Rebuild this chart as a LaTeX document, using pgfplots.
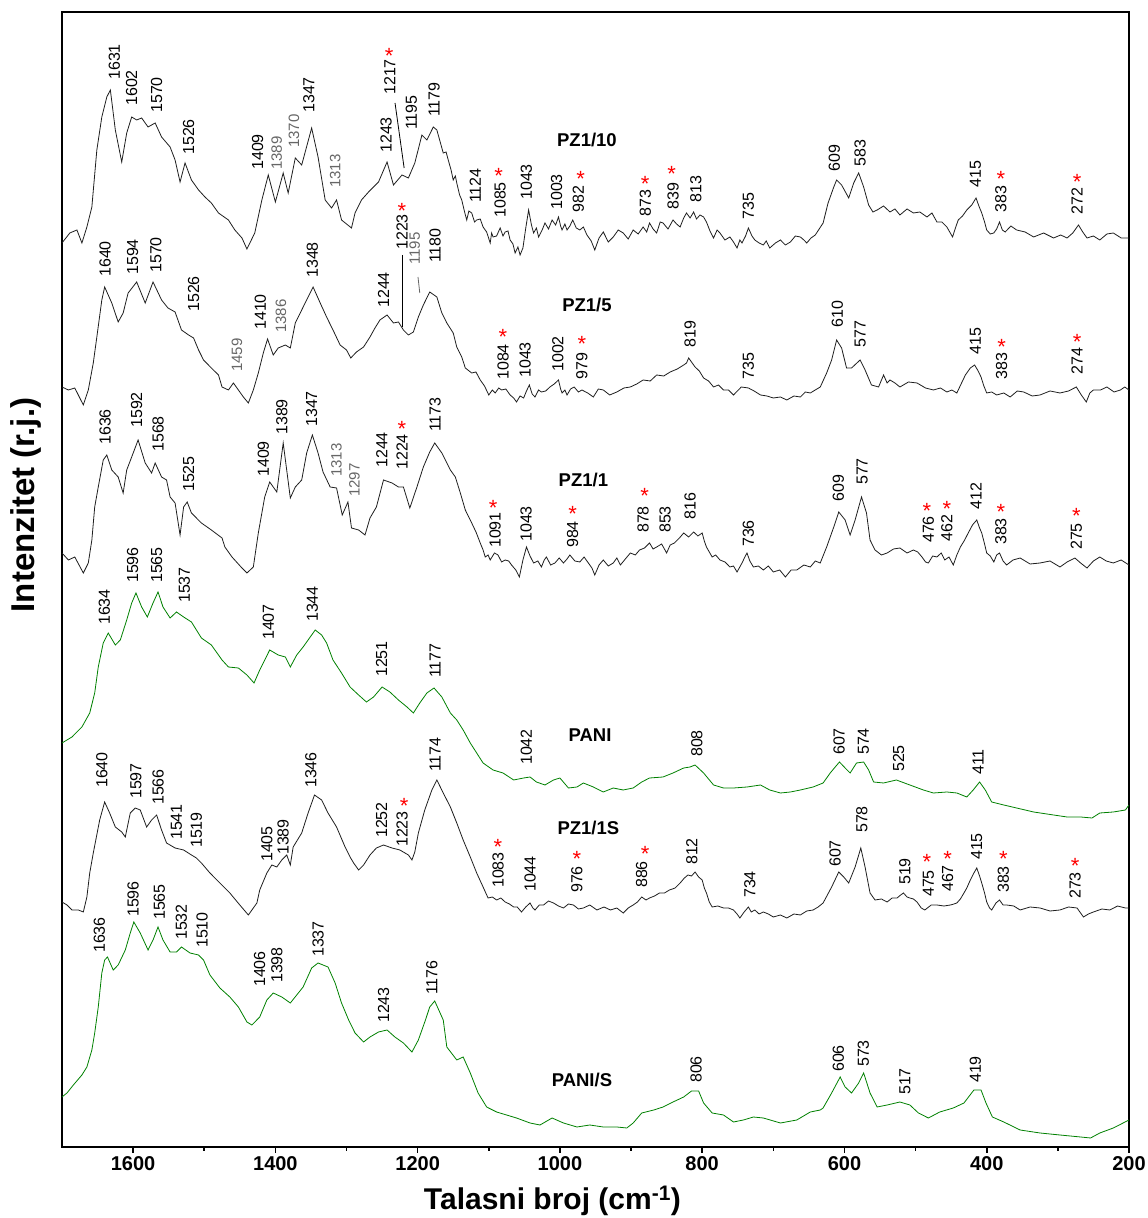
\documentclass[border=0pt]{standalone}
\usepackage{fontspec}
\setmainfont{Liberation Sans}
\usepackage{pgfplots}
\pgfplotsset{compat=1.18}
\definecolor{spgreen}{RGB}{0,128,0}
\definecolor{spblack}{RGB}{30,30,30}
\newcommand{\lb}[3]{\node[lbl] at (axis cs:#1,-#2) {#3};}
\newcommand{\glb}[3]{\node[lblg] at (axis cs:#1,-#2) {#3};}
\newcommand{\astk}[2]{\node[astl] at (axis cs:#1,-#2+4) {*};}
\newcommand{\nm}[3]{\node[nml] at (axis cs:#1,-#2) {#3};}
\begin{document}
\begin{tikzpicture}[
  lbl/.style={rotate=90, anchor=west, inner sep=0pt, font=\fontsize{16}{16}\selectfont},
  lblg/.style={rotate=90, anchor=west, inner sep=0pt, text=black!60, font=\fontsize{15}{15}\selectfont},
  astl/.style={text=red, inner sep=0pt, anchor=north, font=\fontsize{22}{22}\selectfont},
  nml/.style={inner sep=0pt, anchor=center, font=\fontsize{18.5}{18.5}\selectfont\bfseries}]
\begin{axis}[
  at={(62pt,71pt)}, anchor=south west,
  scale only axis, width=1067pt, height=1135pt,
  x dir=reverse, xmin=200, xmax=1700, ymin=-1147, ymax=-12,
  xtick={200,400,...,1600}, minor x tick num=1, ytick=\empty,
  xtick pos=left, tick align=outside,
  major tick length=6pt, minor tick length=4pt,
  axis line style={line width=1.8pt},
  every tick/.style={line width=1.6pt, black},
  /pgf/number format/1000 sep={},
  /pgf/number format/assume math mode=true,
  xticklabel style={font=\fontsize{20}{20}\selectfont\bfseries},
  xlabel={Talasni broj (cm\textsuperscript{-1})},
  ylabel={Intenzitet (r.j.)},
  every axis x label/.style={at={(axis description cs:0.4597,-0.0555)}, anchor=base, font=\fontsize{30}{30}\selectfont\bfseries},
  every axis y label/.style={at={(axis description cs:-0.0253,0.5656)}, anchor=base, rotate=90, font=\fontsize{33}{33}\selectfont\bfseries},
  clip=true,
]
% PZ1/10
\addplot[spblack, line width=0.8pt] coordinates {
(1700,-243)(1689,-233)(1679,-230)(1672,-243)(1665,-227)(1658,-207)(1651,-150)(1644,-117)(1637,-97)(1632,-90)
(1625,-130)(1616,-162)(1609,-133)(1602,-117)(1595,-120)(1588,-118)(1579,-127)(1569,-123)(1560,-137)(1548,-147)
(1541,-160)(1534,-182)(1527,-163)(1518,-180)(1508,-190)(1499,-197)(1490,-203)(1480,-213)(1466,-220)(1457,-230)
(1447,-238)(1440,-249)(1429,-233)(1419,-200)(1410,-175)(1400,-202)(1389,-173)(1382,-193)(1372,-158)(1363,-165)
(1349,-128)(1340,-157)(1330,-200)(1321,-208)(1314,-200)(1307,-220)(1293,-228)(1288,-213)(1279,-200)(1269,-192)
(1255,-182)(1243,-162)(1234,-185)(1222,-175)(1213,-178)(1204,-163)(1194,-135)(1187,-140)(1178,-127)(1173,-130)
(1164,-153)(1160,-152)(1157,-160)(1153,-170)(1150,-180)(1147,-176)(1145,-183)(1141,-195)(1138,-200)(1134,-212)
(1131,-220)(1128,-211)(1124,-213)(1120,-222)(1117,-220)(1112,-219)(1108,-227)(1103,-232)(1098,-243)(1096,-233)
(1094,-237)(1089,-236)(1084,-228)(1080,-236)(1077,-232)(1073,-231)(1070,-240)(1066,-244)(1063,-253)(1059,-247)
(1056,-255)(1052,-248)(1048,-228)(1044,-210)(1040,-225)(1037,-233)(1033,-228)(1030,-237)(1025,-230)(1021,-223)
(1016,-229)(1011,-220)(1006,-225)(1002,-217)(999,-226)(997,-230)(993,-224)(990,-230)(986,-226)(982,-220)
(977,-228)(972,-230)(967,-227)(962,-235)(956,-241)(951,-250)(945,-238)(939,-232)(932,-242)(925,-237)
(918,-230)(911,-233)(904,-239)(897,-230)(890,-234)(883,-227)(878,-232)(874,-223)(869,-229)(864,-233)
(859,-222)(855,-223)(848,-229)(841,-220)(836,-224)(831,-227)(826,-218)(822,-213)(817,-218)(812,-212)
(808,-219)(803,-215)(798,-217)(794,-222)(789,-231)(784,-238)(779,-230)(775,-233)(768,-240)(761,-237)
(756,-242)(751,-248)(747,-240)(744,-243)(739,-236)(735,-228)(730,-236)(726,-240)(720,-243)(714,-245)
(710,-241)(705,-248)(697,-243)(690,-240)(683,-245)(676,-242)(669,-236)(662,-237)(657,-240)(653,-243)
(647,-238)(641,-235)(630,-223)(623,-203)(615,-187)(611,-180)(604,-185)(594,-198)(587,-183)(580,-173)
(573,-187)(566,-205)(560,-212)(554,-210)(545,-206)(536,-212)(529,-209)(522,-215)(512,-209)(503,-213)
(494,-212)(484,-217)(477,-213)(470,-222)(463,-222)(456,-227)(452,-232)(448,-237)(444,-228)(440,-220)
(434,-216)(428,-210)(421,-205)(415,-198)(411,-206)(407,-213)(403,-222)(400,-230)(395,-234)(390,-233)
(386,-229)(382,-222)(378,-230)(374,-232)(366,-226)(358,-230)(346,-232)(334,-237)(320,-233)(306,-238)
(296,-235)(287,-238)(279,-233)(271,-225)(265,-232)(259,-238)(250,-236)(241,-240)(231,-234)(222,-233)
(211,-238)(200,-238)};
% PZ1/5
\addplot[spblack, line width=0.8pt] coordinates {
(1700,-387)(1691,-390)(1682,-388)(1670,-405)(1663,-390)(1656,-363)(1651,-337)(1644,-300)(1640,-287)(1630,-303)
(1621,-322)(1614,-313)(1607,-293)(1595,-282)(1583,-303)(1572,-282)(1560,-300)(1551,-308)(1541,-312)(1532,-330)
(1522,-335)(1515,-338)(1508,-350)(1501,-360)(1490,-368)(1480,-375)(1475,-387)(1466,-390)(1459,-383)(1452,-390)
(1445,-397)(1438,-403)(1431,-390)(1424,-373)(1417,-353)(1411,-339)(1403,-355)(1396,-348)(1386,-345)(1379,-348)
(1372,-323)(1363,-310)(1354,-297)(1347,-287)(1337,-303)(1328,-317)(1319,-330)(1309,-345)(1300,-350)(1294,-358)
(1286,-352)(1276,-347)(1267,-337)(1260,-328)(1253,-320)(1243,-315)(1234,-323)(1227,-322)(1220,-330)(1213,-335)
(1206,-332)(1199,-317)(1192,-305)(1183,-292)(1173,-297)(1166,-313)(1159,-323)(1150,-333)(1145,-347)(1138,-357)
(1133,-368)(1124,-373)(1118,-372)(1112,-380)(1106,-386)(1100,-395)(1095,-390)(1091,-393)(1086,-388)(1082,-390)
(1076,-389)(1070,-395)(1065,-398)(1061,-402)(1056,-396)(1051,-398)(1047,-391)(1043,-385)(1039,-394)(1035,-397)
(1030,-390)(1026,-392)(1020,-391)(1014,-387)(1008,-384)(1002,-380)(999,-389)(997,-393)(993,-390)(990,-395)
(985,-389)(980,-387)(974,-392)(969,-390)(961,-393)(953,-397)(946,-389)(939,-390)(930,-395)(920,-392)
(910,-388)(901,-387)(892,-384)(883,-380)(873,-381)(864,-375)(854,-376)(845,-372)(835,-369)(826,-365)
(822,-363)(819,-358)(814,-363)(810,-367)(804,-371)(798,-378)(791,-381)(784,-387)(777,-385)(770,-390)
(763,-390)(756,-395)(745,-387)(735,-388)(727,-391)(718,-395)(709,-396)(700,-398)(690,-397)(681,-400)
(671,-396)(662,-397)(655,-392)(648,-393)(641,-390)(634,-387)(625,-373)(618,-360)(611,-340)(604,-348)
(597,-368)(590,-368)(578,-360)(571,-370)(562,-385)(552,-387)(545,-375)(540,-383)(536,-380)(529,-383)
(522,-387)(510,-382)(498,-383)(486,-388)(475,-390)(465,-388)(456,-392)(449,-390)(442,-393)(436,-384)
(430,-375)(423,-368)(417,-365)(412,-371)(408,-377)(404,-386)(400,-393)(393,-392)(386,-395)(376,-393)
(367,-397)(357,-391)(348,-392)(336,-396)(325,-395)(311,-391)(297,-393)(285,-391)(274,-387)(267,-395)
(260,-402)(255,-393)(250,-390)(240,-390)(231,-387)(221,-392)(212,-390)(206,-387)(200,-390)};
% PZ1/1
\addplot[spblack, line width=0.8pt] coordinates {
(1700,-553)(1691,-560)(1682,-557)(1670,-573)(1663,-563)(1658,-540)(1654,-507)(1649,-487)(1642,-460)(1637,-455)
(1630,-470)(1621,-477)(1614,-493)(1609,-470)(1602,-457)(1593,-440)(1583,-463)(1574,-473)(1569,-463)(1560,-477)
(1553,-480)(1548,-497)(1541,-503)(1534,-535)(1529,-507)(1524,-502)(1518,-513)(1504,-523)(1490,-530)(1475,-538)
(1471,-547)(1461,-557)(1447,-568)(1440,-573)(1431,-567)(1424,-533)(1415,-497)(1408,-482)(1398,-492)(1389,-443)
(1379,-498)(1372,-487)(1363,-480)(1356,-453)(1348,-435)(1340,-453)(1333,-472)(1323,-487)(1314,-488)(1306,-515)
(1298,-502)(1293,-528)(1283,-530)(1274,-535)(1267,-518)(1258,-507)(1248,-480)(1236,-483)(1227,-487)(1220,-487)
(1211,-508)(1201,-487)(1192,-467)(1183,-452)(1176,-443)(1166,-453)(1154,-470)(1147,-477)(1140,-493)(1133,-510)
(1124,-523)(1118,-532)(1112,-543)(1108,-550)(1105,-557)(1101,-555)(1098,-560)(1092,-553)(1087,-555)(1082,-562)
(1077,-560)(1072,-561)(1068,-565)(1062,-570)(1057,-577)(1052,-560)(1047,-547)(1042,-556)(1037,-563)(1031,-561)
(1026,-567)(1022,-560)(1019,-557)(1013,-565)(1007,-563)(1001,-558)(995,-563)(990,-559)(986,-555)(979,-561)
(972,-562)(966,-557)(960,-563)(955,-568)(951,-575)(945,-565)(939,-560)(932,-566)(925,-563)(920,-558)
(915,-565)(908,-559)(901,-553)(894,-555)(888,-550)(881,-548)(874,-543)(869,-549)(864,-547)(857,-544)
(850,-553)(845,-545)(839,-543)(832,-538)(826,-533)(819,-537)(812,-532)(806,-536)(800,-533)(797,-541)
(794,-547)(790,-552)(786,-557)(781,-555)(775,-560)(768,-562)(761,-567)(756,-566)(751,-572)(744,-563)
(740,-557)(737,-553)(733,-561)(728,-567)(721,-566)(714,-570)(707,-566)(700,-572)(691,-570)(683,-577)
(675,-570)(667,-570)(657,-565)(648,-567)(641,-561)(634,-563)(625,-547)(615,-527)(608,-512)(599,-520)
(592,-535)(585,-520)(576,-497)(569,-513)(564,-540)(557,-550)(548,-555)(540,-553)(531,-549)(522,-548)
(512,-553)(503,-550)(497,-552)(491,-557)(486,-562)(482,-563)(476,-556)(470,-557)(464,-553)(459,-560)
(453,-557)(447,-565)(442,-555)(437,-547)(431,-540)(426,-533)(420,-525)(414,-520)(410,-528)(407,-533)
(403,-544)(400,-553)(395,-556)(390,-562)(386,-555)(382,-553)(377,-561)(372,-565)(363,-560)(353,-558)
(339,-564)(325,-563)(311,-561)(297,-567)(287,-562)(276,-558)(268,-563)(259,-568)(250,-561)(241,-557)
(232,-561)(222,-563)(211,-560)(200,-565)};
% PANI
\addplot[spgreen, line width=0.8pt] coordinates {
(1700,-743)(1686,-737)(1672,-727)(1661,-713)(1654,-693)(1649,-667)(1642,-643)(1635,-633)(1625,-645)(1618,-640)
(1609,-620)(1602,-603)(1596,-593)(1588,-607)(1580,-617)(1572,-603)(1565,-592)(1558,-607)(1548,-618)(1539,-612)
(1529,-617)(1518,-622)(1504,-638)(1490,-645)(1475,-660)(1466,-667)(1452,-668)(1440,-675)(1430,-683)(1422,-670)
(1415,-660)(1408,-650)(1396,-655)(1386,-657)(1379,-667)(1370,-655)(1361,-647)(1351,-637)(1344,-630)(1335,-635)
(1328,-643)(1319,-660)(1307,-673)(1295,-687)(1283,-695)(1272,-702)(1262,-697)(1250,-687)(1239,-692)(1227,-700)
(1215,-707)(1206,-713)(1197,-703)(1187,-693)(1177,-688)(1166,-697)(1154,-713)(1145,-720)(1136,-730)(1126,-743)
(1117,-753)(1108,-763)(1094,-770)(1080,-773)(1065,-780)(1051,-778)(1042,-777)(1033,-782)(1021,-785)(1009,-780)
(1000,-778)(988,-788)(976,-787)(967,-783)(953,-787)(939,-792)(925,-788)(911,-790)(897,-788)(885,-782)
(874,-778)(855,-777)(841,-773)(826,-768)(817,-767)(810,-765)(798,-773)(784,-785)(770,-788)(756,-788)
(737,-787)(718,-785)(705,-790)(690,-793)(676,-792)(662,-790)(644,-787)(630,-783)(620,-773)(613,-767)
(607,-762)(599,-768)(592,-773)(583,-763)(573,-762)(566,-770)(559,-782)(545,-783)(527,-780)(508,-785)
(489,-790)(475,-793)(456,-792)(442,-793)(428,-797)(419,-790)(410,-782)(402,-790)(393,-802)(376,-805)
(358,-808)(334,-812)(306,-815)(287,-817)(268,-817)(252,-818)(241,-813)(222,-812)(205,-810)(200,-805)};
% PZ1/1S
\addplot[spblack, line width=0.8pt] coordinates {
(1700,-902)(1693,-905)(1686,-910)(1677,-910)(1670,-912)(1665,-897)(1661,-873)(1656,-853)(1647,-820)(1640,-802)
(1633,-813)(1625,-827)(1616,-832)(1611,-837)(1604,-813)(1597,-808)(1590,-810)(1581,-827)(1574,-820)(1567,-815)
(1560,-830)(1553,-843)(1541,-848)(1529,-850)(1518,-855)(1511,-858)(1504,-863)(1492,-873)(1478,-883)(1464,-893)
(1450,-905)(1438,-915)(1426,-903)(1422,-890)(1412,-873)(1405,-865)(1398,-867)(1391,-860)(1384,-855)(1379,-865)
(1375,-847)(1363,-833)(1354,-813)(1345,-795)(1335,-800)(1326,-813)(1314,-827)(1302,-847)(1295,-857)(1290,-863)
(1283,-870)(1276,-865)(1267,-855)(1258,-848)(1248,-845)(1236,-848)(1225,-850)(1213,-855)(1208,-860)(1204,-852)
(1199,-833)(1190,-810)(1180,-790)(1173,-780)(1164,-793)(1154,-807)(1145,-823)(1136,-840)(1126,-857)(1117,-873)
(1108,-887)(1101,-898)(1095,-897)(1089,-900)(1083,-898)(1077,-902)(1071,-904)(1065,-907)(1060,-907)(1054,-912)
(1048,-907)(1042,-903)(1038,-908)(1035,-910)(1029,-905)(1023,-905)(1016,-901)(1009,-903)(1002,-906)(995,-908)
(988,-904)(981,-905)(974,-909)(967,-908)(958,-905)(948,-910)(938,-907)(929,-910)(920,-908)(911,-913)
(904,-908)(897,-905)(891,-902)(885,-897)(879,-900)(874,-898)(867,-896)(860,-893)(853,-893)(846,-890)
(838,-888)(831,-883)(825,-878)(820,-875)(815,-876)(810,-872)(805,-877)(800,-880)(797,-888)(794,-893)
(790,-902)(786,-907)(778,-906)(770,-908)(763,-908)(756,-910)(751,-914)(747,-918)(741,-912)(735,-907)
(731,-912)(726,-910)(720,-914)(714,-912)(707,-914)(700,-917)(690,-915)(681,-918)(671,-914)(662,-915)
(653,-911)(644,-910)(637,-907)(630,-903)(618,-887)(608,-872)(601,-877)(594,-883)(585,-867)(577,-848)
(571,-867)(564,-893)(557,-900)(548,-899)(540,-902)(533,-898)(526,-898)(521,-895)(517,-893)(512,-897)
(508,-898)(503,-899)(498,-902)(492,-908)(487,-910)(478,-905)(470,-905)(460,-906)(451,-905)(446,-904)
(442,-903)(437,-899)(432,-893)(428,-888)(423,-880)(418,-873)(414,-868)(410,-876)(407,-883)(403,-893)
(400,-902)(396,-908)(393,-910)(387,-903)(382,-900)(377,-905)(372,-905)(362,-906)(353,-910)(339,-907)
(325,-908)(311,-911)(297,-910)(285,-907)(273,-908)(268,-913)(264,-917)(257,-914)(250,-912)(238,-909)
(227,-910)(216,-906)(205,-908)(200,-908)};
% PANI/S
\addplot[spgreen, line width=0.8pt] coordinates {
(1700,-1097)(1693,-1093)(1684,-1085)(1672,-1075)(1665,-1067)(1658,-1050)(1654,-1033)(1649,-1007)(1644,-973)(1640,-960)
(1636,-957)(1628,-970)(1621,-965)(1611,-950)(1604,-933)(1599,-922)(1590,-933)(1579,-950)(1572,-940)(1565,-927)
(1558,-940)(1548,-952)(1539,-952)(1532,-947)(1520,-953)(1508,-955)(1501,-960)(1492,-975)(1478,-988)(1464,-997)
(1452,-1007)(1440,-1022)(1433,-1025)(1422,-1017)(1412,-1000)(1403,-993)(1391,-997)(1379,-1003)(1370,-995)(1361,-987)
(1349,-968)(1340,-963)(1326,-967)(1316,-983)(1307,-1003)(1297,-1020)(1288,-1033)(1276,-1042)(1267,-1037)(1255,-1032)
(1243,-1030)(1232,-1037)(1220,-1043)(1208,-1052)(1199,-1040)(1190,-1022)(1183,-1007)(1176,-1001)(1164,-1020)(1159,-1047)
(1145,-1060)(1136,-1057)(1126,-1073)(1115,-1093)(1103,-1107)(1089,-1112)(1075,-1115)(1061,-1118)(1042,-1123)(1028,-1125)
(1011,-1118)(995,-1123)(976,-1127)(958,-1125)(939,-1127)(920,-1127)(906,-1128)(897,-1123)(885,-1113)(868,-1110)
(855,-1107)(841,-1102)(826,-1097)(815,-1091)(805,-1091)(798,-1103)(786,-1113)(770,-1115)(756,-1122)(742,-1120)
(728,-1117)(714,-1118)(690,-1123)(667,-1120)(648,-1112)(634,-1110)(630,-1108)(618,-1093)(606,-1077)(599,-1087)
(590,-1093)(580,-1083)(573,-1073)(564,-1093)(554,-1107)(540,-1105)(522,-1102)(508,-1105)(496,-1113)(482,-1118)
(466,-1112)(447,-1108)(432,-1103)(418,-1090)(408,-1090)(401,-1103)(392,-1117)(376,-1122)(353,-1130)(325,-1133)
(297,-1135)(268,-1137)(254,-1138)(241,-1133)(222,-1128)(200,-1120)};
% ---- labels PZ1/10
\lb{1626.5}{80}{1631}\lb{1602}{106}{1602}\lb{1567}{113}{1570}\lb{1522}{155}{1526}\lb{1425}{170}{1409}
\glb{1398}{170}{1389}\glb{1374}{148}{1370}\lb{1353}{113}{1347}\glb{1316}{188}{1313}\lb{1244.5}{153}{1243}
\lb{1239}{95}{1217}\lb{1209}{130}{1195}\lb{1177}{117}{1179}\lb{1119}{203}{1124}\lb{1084}{218}{1085}
\lb{1047}{200}{1043}\lb{1004.5}{210}{1003}\lb{974}{213}{982}\lb{880}{217}{873}\lb{841}{210}{839}
\lb{809}{203}{813}\lb{735}{220}{735}\lb{614}{172}{609}\lb{578}{167}{583}\lb{416}{188}{415}
\lb{380}{213}{383}\lb{273}{215}{272}
\astk{1240}{52}\astk{1086}{172}\astk{971}{175}\astk{880}{180}\astk{843}{170}\astk{380}{175}\astk{273}{178}
\draw[black, line width=0.8pt] (axis cs:1231.8,-103) -- (axis cs:1219,-168);
\nm{962}{140}{PZ1/10}
% ---- labels PZ1/5
\lb{1639.5}{277}{1640}\lb{1600.6}{275}{1594}\lb{1568}{273}{1570}\lb{1515}{312}{1526}\glb{1454}{372}{1459}
\lb{1421}{330}{1410}\glb{1392}{333}{1386}\lb{1348}{278}{1348}\lb{1248}{308}{1244}\lb{1222}{250}{1223}
\glb{1204}{265}{1195}\lb{1175.6}{263}{1180}\lb{1080}{380}{1084}\lb{1049}{378}{1043}\lb{1003}{372}{1002}
\lb{969}{380}{979}\lb{817}{348}{819}\lb{735}{380}{735}\lb{610}{328}{610}\lb{578}{348}{577}
\lb{416}{355}{415}\lb{379}{380}{383}\lb{273}{375}{274}
\astk{1222}{207}\astk{1080}{333}\astk{969}{340}\astk{379}{343}\astk{273}{338}
\draw[black, line width=0.8pt] (axis cs:1222,-255) -- (axis cs:1222,-327);
\draw[black!60, line width=0.8pt] (axis cs:1199.5,-277) -- (axis cs:1197,-293);
\nm{962}{305}{PZ1/5}
% ---- labels PZ1/1
\lb{1639.5}{445}{1636}\lb{1595}{428}{1592}\lb{1565}{452}{1568}\lb{1522}{492}{1525}\lb{1417}{477}{1409}
\lb{1391}{435}{1389}\lb{1349}{427}{1347}\glb{1314}{477}{1313}\glb{1289}{497}{1297}\lb{1250.5}{468}{1244}
\lb{1222}{470}{1224}\lb{1175.6}{432}{1173}\lb{1091}{548}{1091}\lb{1047.6}{542}{1043}\lb{982}{548}{984}
\lb{883}{533}{878}\lb{852}{533}{853}\lb{817}{520}{816}\lb{735}{547}{736}\lb{608.5}{502}{609}
\lb{575}{485}{577}\lb{482}{543}{476}\lb{456}{542}{462}\lb{415}{510}{412}\lb{380}{545}{383}\lb{274}{550}{275}
\astk{1222}{425}\astk{1094}{504}\astk{982}{510}\astk{881}{492}\astk{484}{507}\astk{456}{505}\astk{380}{508}\astk{274}{512}
\nm{967}{480}{PZ1/1}
% ---- labels PANI
\lb{1640.5}{625}{1634}\lb{1600.6}{583}{1596}\lb{1567}{583}{1565}\lb{1528}{603}{1537}\lb{1410}{640}{1407}
\lb{1348}{622}{1344}\lb{1250.5}{677}{1251}\lb{1175.6}{678}{1177}\lb{1047}{765}{1042}\lb{807.6}{757}{808}
\lb{607.5}{755}{607}\lb{573.4}{755}{574}\lb{524}{772}{525}\lb{412}{775}{411}
\nm{957.6}{735}{PANI}
% ---- labels PZ1/1S
\lb{1644}{788}{1640}\lb{1596}{799}{1597}\lb{1565}{805}{1566}\lb{1539}{840}{1541}\lb{1511}{848}{1519}
\lb{1412}{862}{1405}\lb{1389}{855}{1389}\lb{1350}{788}{1346}\lb{1250.5}{838}{1252}\lb{1222}{847}{1223}
\lb{1175.6}{772}{1174}\lb{1087}{888}{1083}\lb{1042}{892}{1044}\lb{976}{893}{976}\lb{885}{888}{886}
\lb{814.6}{865}{812}\lb{733}{898}{734}\lb{613}{867}{607}\lb{575.6}{833}{578}\lb{515}{885}{519}
\lb{482}{897}{475}\lb{455}{892}{467}\lb{414}{860}{415}\lb{376.5}{893}{383}\lb{275.7}{899}{273}
\astk{1219}{802}\astk{1087}{843}\astk{976}{855}\astk{880}{850}\astk{484}{858}\astk{455}{855}\astk{376.5}{855}\astk{275.7}{862}
\nm{960}{828}{PZ1/1S}
% ---- labels PANI/S
\lb{1647.6}{953}{1636}\lb{1600}{917}{1596}\lb{1563}{920}{1565}\lb{1532}{940}{1532}\lb{1503}{948}{1510}
\lb{1422}{987}{1406}\lb{1398}{983}{1398}\lb{1340}{957}{1337}\lb{1248}{1023}{1243}\lb{1180}{995}{1176}
\lb{808.6}{1083}{806}\lb{608.5}{1072}{606}\lb{573.4}{1067}{573}\lb{515}{1095}{517}\lb{416}{1083}{419}
\nm{969}{1080}{PANI/S}
\end{axis}
\pgfresetboundingbox
\path (0,0) rectangle (1148pt,1218pt);
\end{tikzpicture}
\end{document}
